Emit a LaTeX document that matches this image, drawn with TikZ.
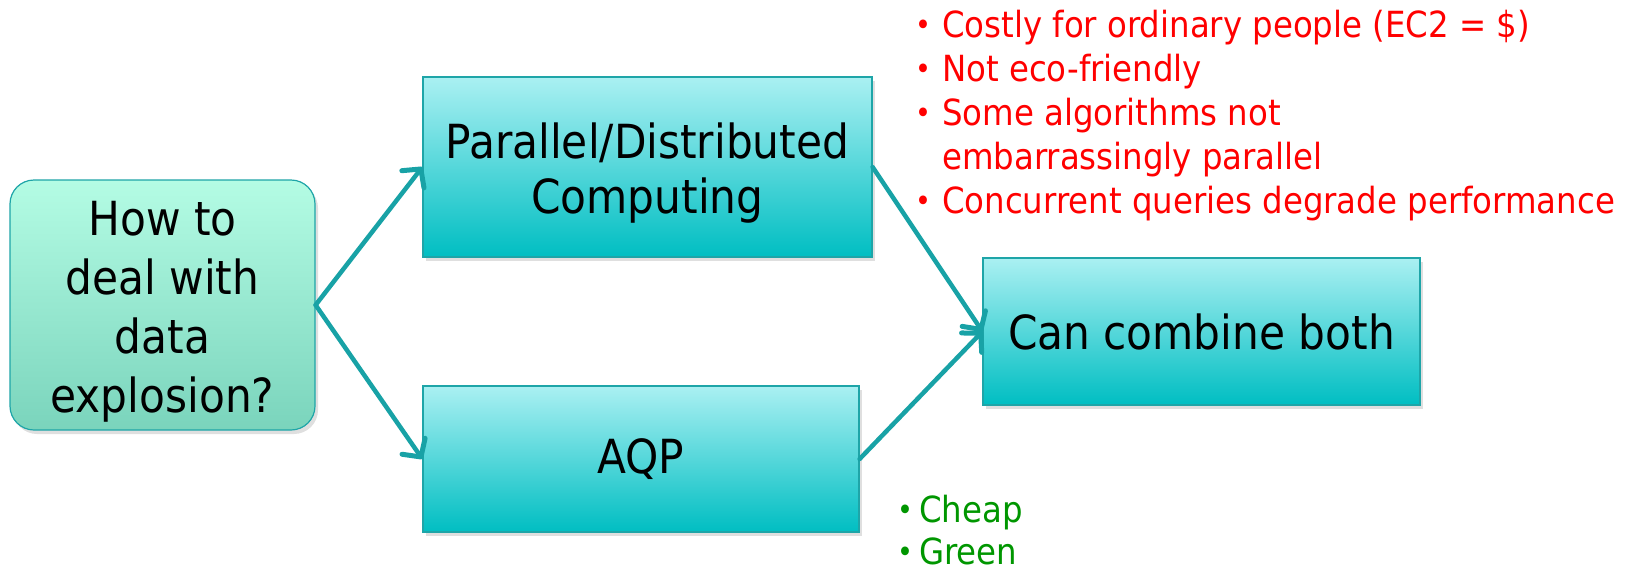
\documentclass[tikz,border=0pt]{standalone}
\usepackage{fontspec}
\setmainfont{DejaVu Sans Condensed}
\usepackage{tikz}
\usetikzlibrary{arrows.meta,shadows}
\definecolor{boxTop}{RGB}{170, 240, 242}
\definecolor{boxBottom}{RGB}{0, 190, 194}
\definecolor{mintTop}{RGB}{180, 252, 228}
\definecolor{mintBottom}{RGB}{122, 212, 188}
\definecolor{edgeTeal}{RGB}{30, 165, 168}
\definecolor{linkTeal}{RGB}{24, 162, 166}
\definecolor{conRed}{RGB}{255, 0, 0}
\definecolor{proGreen}{RGB}{0, 150, 0}
\newcommand{\bulletmark}[1][27pt]{\makebox[#1][l]{\raisebox{2pt}{\fontsize{30}{30}\selectfont\textbullet}}}

\begin{document}
\begin{tikzpicture}[x=1pt, y=-1pt,
    tealbox/.style={draw=edgeTeal, line width=1.2pt, shading=axis, top color=boxTop, bottom color=boxBottom,
      drop shadow={opacity=0.25, shadow xshift=3pt, shadow yshift=-4pt},
      align=center, font=\fontsize{47}{55}\selectfont, inner sep=0pt},
    link/.style={linkTeal, line width=4.5pt, line cap=round, -{Straight Barb[length=13pt, width=28pt, line width=5pt, round]}}]
        \useasboundingbox (0,0) rectangle (1637,568);
        \node[tealbox, rounded corners=24pt, top color=mintTop, bottom color=mintBottom,
          font=\fontsize{47}{59}\selectfont, minimum width=305pt, minimum height=250pt] (question) at (162.5,305)
          {\rule{0pt}{48pt}How to\\deal with\\data\\explosion?};
        \node[tealbox, minimum width=449pt, minimum height=180pt] (parallel) at (647.5,167)
          {\rule{0pt}{48pt}Parallel/Distributed\\Computing};
        \node[tealbox, minimum width=436pt, minimum height=146pt] (aqp) at (641,459) {AQP};
        \node[tealbox, minimum width=437pt, minimum height=147pt] (combine) at (1201.5,331.5) {Can combine both};
        \draw[link] (question.east) -- (parallel.west);
        \draw[link] (question.east) -- (aqp.west);
        \draw[link] (parallel.east) -- (combine.west);
        \draw[link] (aqp.east) -- (combine.west);
        \node[anchor=north west, inner sep=0pt, text=conRed, font=\fontsize{36}{44}\selectfont] (cons) at (915,6)
          {\begin{tabular}{@{}l@{}l@{}}
            \bulletmark & Costly for ordinary people (EC2 = \$)\\
            \bulletmark & Not eco-friendly\\
            \bulletmark & Some algorithms not\\
            & embarrassingly parallel\\
            \bulletmark & Concurrent queries degrade performance
          \end{tabular}};
        \node[anchor=north west, inner sep=0pt, text=proGreen, font=\fontsize{36}{42}\selectfont] (pros) at (897,493)
          {\begin{tabular}{@{}l@{}l@{}}
            \bulletmark[22pt] & Cheap\\
            \bulletmark[22pt] & Green
          \end{tabular}};
      \end{tikzpicture}
\end{document}
